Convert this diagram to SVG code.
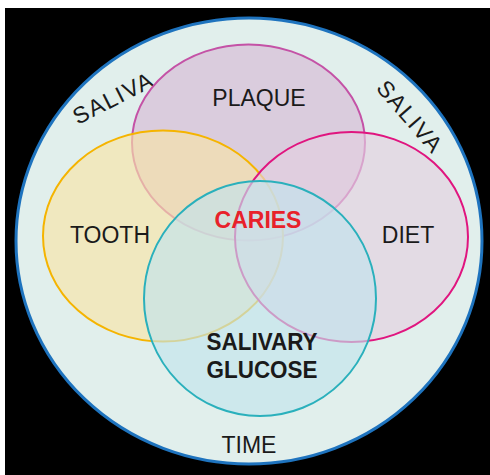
<svg xmlns="http://www.w3.org/2000/svg" width="490" height="475" viewBox="0 0 490 475">
<style>
.lbl{font-family:"Liberation Sans","DejaVu Sans",sans-serif;font-size:23px;fill:#1a1a1a;text-anchor:middle}
.bold{font-weight:bold}
.set{stroke-width:2}
</style>
<rect x="0" y="0" width="490" height="475" fill="#ffffff"/>
<rect x="5" y="8" width="485" height="467" fill="#000000"/>
<g id="time">
<ellipse cx="249" cy="241" rx="233" ry="223" fill="#e1efec" stroke="#1e73be" stroke-width="3"/>
<text class="lbl" x="249" y="453" font-size="22">TIME</text>
<text class="lbl" transform="translate(117,105) rotate(-27)" font-size="22" letter-spacing="1.5">SALIVA</text>
<text class="lbl" transform="translate(404,122) rotate(49)" font-size="22" letter-spacing="1.5">SALIVA</text>
</g>
<g id="plaque">
<ellipse class="set" cx="248.5" cy="142.5" rx="116.5" ry="98" fill="#d6b8d6" fill-opacity="0.65" stroke="#c452a6"/>
</g>
<g id="tooth">
<ellipse class="set" cx="163" cy="236" rx="120" ry="105.5" fill="#f8e3a8" fill-opacity="0.65" stroke="#f5b400"/>
</g>
<g id="diet">
<ellipse class="set" cx="351.5" cy="237" rx="116.5" ry="105" fill="#e3d0e0" fill-opacity="0.65" stroke="#e0157f"/>
</g>
<g id="salivary-glucose">
<ellipse class="set" cx="260" cy="298.5" rx="116" ry="117.5" fill="#c2e4ec" fill-opacity="0.65" stroke="#2ab0bc"/>
</g>
<g id="labels">
<text class="lbl" x="259" y="106" font-size="24">PLAQUE</text>
<text class="lbl" x="110" y="243">TOOTH</text>
<text class="lbl" x="408" y="243">DIET</text>
<text class="lbl bold" x="258" y="228" font-size="24" style="fill:#e8212a">CARIES</text>
<text class="lbl bold" x="262" y="350" font-size="25" textLength="111" lengthAdjust="spacingAndGlyphs">SALIVARY</text>
<text class="lbl bold" x="262" y="378" font-size="25" textLength="111" lengthAdjust="spacingAndGlyphs">GLUCOSE</text>
</g>
</svg>
